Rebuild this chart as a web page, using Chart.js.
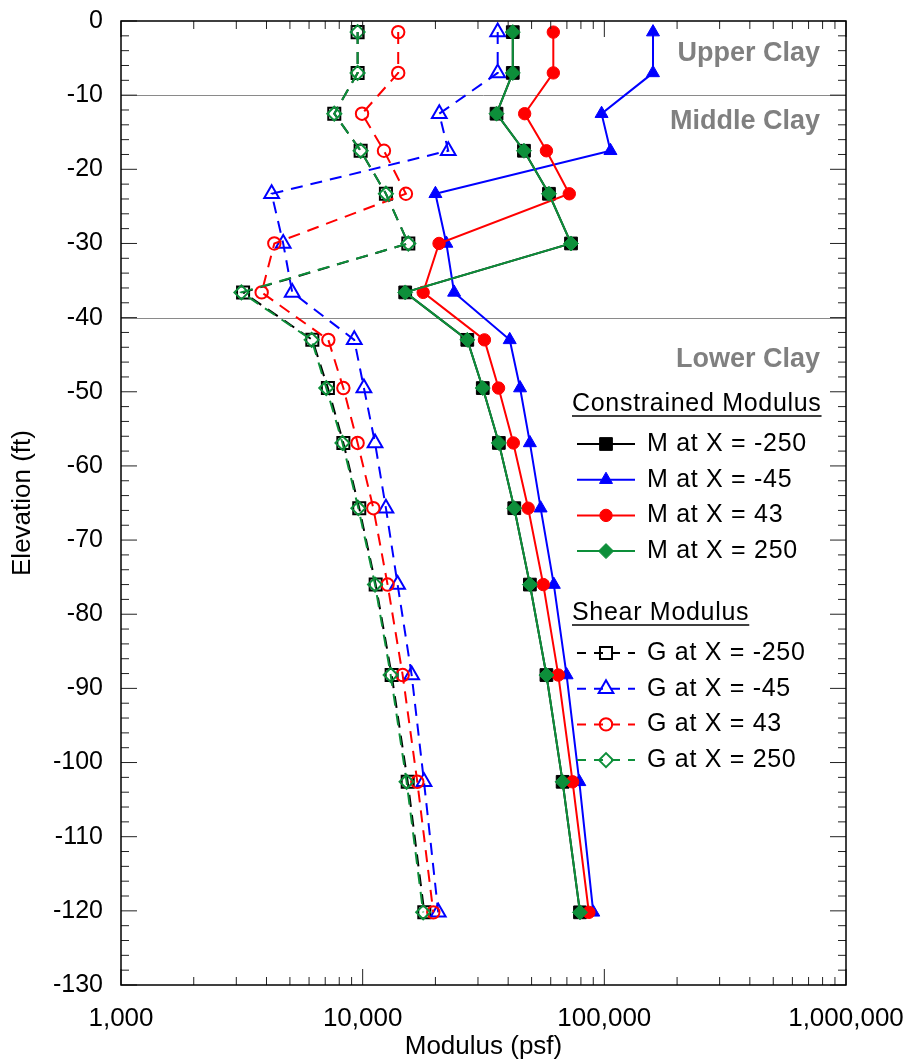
<!DOCTYPE html>
<html>
<head>
<meta charset="utf-8">
<script src="https://cdn.jsdelivr.net/npm/chart.js@4.4.1/dist/chart.umd.min.js"></script>
<style>
    html, body { margin: 0; padding: 0; background: #fff; }
    #wrap { width: 909px; height: 1061px; }
</style>
</head>
<body>
<div id="wrap"><canvas id="modulusChart" width="909" height="1061"></canvas></div>
<script>
// elevation of each reading (ft)
const elevations = [-1.5, -7, -12.5, -17.5, -23.3, -30, -36.6, -43, -49.5, -56.9, -65.7, -76, -88.2, -102.6, -120.2];

// constrained modulus M (psf)
const mAtMinus250 = [41800, 41800, 35800, 46500, 59000, 72800, 15000, 27100, 31400, 36600, 42400, 49200, 57600, 67200, 79300];
const mAtMinus45  = [159000, 159000, 97400, 106000, 20000, 22200, 23900, 40600, 44800, 49200, 54500, 61800, 69800, 78800, 90000];
const mAt43       = [61500, 61500, 46800, 57600, 71600, 20700, 17800, 31900, 36500, 42000, 48400, 55900, 64500, 73900, 86300];
const mAt250      = [41800, 41800, 35800, 46500, 59000, 72800, 15000, 27100, 31400, 36600, 42400, 49200, 57600, 67200, 79300];

// shear modulus G (psf)
const gAtMinus250 = [9530, 9530, 7630, 9810, 12480, 15450, 3200, 6190, 7180, 8320, 9680, 11320, 13180, 15360, 17990];
const gAtMinus45  = [36200, 36200, 20750, 22600, 4200, 4690, 5110, 9230, 10120, 11250, 12480, 13950, 15950, 17940, 20550];
const gAt43       = [14030, 14030, 9940, 12250, 15100, 4310, 3820, 7210, 8320, 9530, 11070, 12680, 14640, 16830, 19600];
const gAt250      = [9530, 9530, 7630, 9810, 12480, 15450, 3150, 6150, 7070, 8250, 9600, 11250, 13060, 15200, 17800];

const seriesNames = ['X = -250', 'X = -45', 'X = 43', 'X = 250'];
const xTickValues = [1000, 10000, 100000, 1000000];
const yTickValues = [0, -10, -20, -30, -40, -50, -60, -70, -80, -90, -100, -110, -120, -130];

// soil layers
const layerBounds = [-10, -40];
const layerNames = ['Upper Clay', 'Middle Clay', 'Lower Clay'];
const layerLabelElev = [-4.4, -13.6, -45.6];

const colors = ['#000000', '#0000ff', '#ff0000', '#0d8f3a'];
const markerStyles = ['rect', 'triangle', 'circle', 'rectRot'];
const filledRadius = [9, 7.5, 6.2, 7.5];
const openRadius = [8.5, 8.5, 6.2, 7];
const drawOrder = [3, 2, 1, 0];   // green on top, like excel
const dashPattern = [12, 8];
const FONT = '"Liberation Sans", Arial, sans-serif';

const datasets = [];
[mAtMinus250, mAtMinus45, mAt43, mAt250].forEach((vals, i) => {
    datasets.push({
        label: 'M at ' + seriesNames[i],
        group: 'M',
        data: vals.map((v, k) => ({ x: v, y: elevations[k] })),
        showLine: true,
        borderColor: colors[i],
        backgroundColor: colors[i],
        borderWidth: 2,
        pointStyle: markerStyles[i],
        pointRadius: filledRadius[i],
        pointHoverRadius: filledRadius[i],
        pointBorderWidth: 1,
        pointBackgroundColor: colors[i],
        pointBorderColor: colors[i],
        order: drawOrder[i]
    });
});
[gAtMinus250, gAtMinus45, gAt43, gAt250].forEach((vals, i) => {
    datasets.push({
        label: 'G at ' + seriesNames[i],
        group: 'G',
        data: vals.map((v, k) => ({ x: v, y: elevations[k] })),
        showLine: true,
        borderColor: colors[i],
        backgroundColor: 'rgba(0,0,0,0)',
        borderWidth: 2,
        borderDash: dashPattern,
        pointStyle: markerStyles[i],
        pointRadius: openRadius[i],
        pointHoverRadius: openRadius[i],
        pointBorderWidth: 2,
        pointBackgroundColor: 'rgba(0,0,0,0)',
        pointBorderColor: colors[i],
        order: drawOrder[i] + 4
    });
});

// layer lines under the data, frame + inward ticks over it
const frameTicks = {
    id: 'frameTicks',
    beforeDatasetsDraw(chart) {
        const { ctx, chartArea: a, scales: { y } } = chart;
        ctx.save();
        ctx.strokeStyle = '#8a8a8a';
        ctx.lineWidth = 1;
        layerBounds.forEach(v => {
            const py = Math.round(y.getPixelForValue(v)) + 0.5;
            ctx.beginPath();
            ctx.moveTo(a.left, py);
            ctx.lineTo(a.right, py);
            ctx.stroke();
        });
        ctx.restore();
    },
    afterDatasetsDraw(chart) {
        const { ctx, chartArea: a, scales: { x, y } } = chart;
        ctx.save();
        ctx.strokeStyle = '#222';
        ctx.lineWidth = 1;
        ctx.beginPath();
        // y: major every tick, minor every 2 ft
        for (let i = 0; i < yTickValues.length; i++) {
            const v = yTickValues[i];
            const py = y.getPixelForValue(v);
            ctx.moveTo(a.left, py); ctx.lineTo(a.left + 16, py);
            ctx.moveTo(a.right, py); ctx.lineTo(a.right - 16, py);
            if (i < yTickValues.length - 1) {
                const step = (yTickValues[i + 1] - v) / 5;
                for (let m = 1; m < 5; m++) {
                    const pm = y.getPixelForValue(v + step * m);
                    ctx.moveTo(a.left, pm); ctx.lineTo(a.left + 8, pm);
                    ctx.moveTo(a.right, pm); ctx.lineTo(a.right - 8, pm);
                }
            }
        }
        // x: decades major, 2..9 minor
        for (let i = 0; i < xTickValues.length; i++) {
            const v = xTickValues[i];
            const px = x.getPixelForValue(v);
            ctx.moveTo(px, a.bottom); ctx.lineTo(px, a.bottom - 16);
            ctx.moveTo(px, a.top); ctx.lineTo(px, a.top + 16);
            if (i < xTickValues.length - 1) {
                for (let m = 2; m < 10; m++) {
                    const pm = x.getPixelForValue(v * m);
                    ctx.moveTo(pm, a.bottom); ctx.lineTo(pm, a.bottom - 8);
                    ctx.moveTo(pm, a.top); ctx.lineTo(pm, a.top + 8);
                }
            }
        }
        ctx.stroke();
        ctx.strokeStyle = '#000';
        ctx.lineWidth = 1.5;
        ctx.strokeRect(a.left, a.top, a.right - a.left, a.bottom - a.top);

        // layer names
        ctx.fillStyle = '#808080';
        ctx.font = 'bold 27px ' + FONT;
        ctx.textAlign = 'right';
        ctx.textBaseline = 'middle';
        layerNames.forEach((name, i) => {
            ctx.fillText(name, a.right - 26, y.getPixelForValue(layerLabelElev[i]));
        });
        ctx.restore();
    }
};

// excel style legend with two headed groups
const sideLegend = {
    id: 'sideLegend',
    afterDraw(chart) {
        const ctx = chart.ctx;
        const groups = [
            { title: 'Constrained Modulus', key: 'M', top: 404 },
            { title: 'Shear Modulus', key: 'G', top: 613 }
        ];
        const left = 572, lineL = 577, lineR = 635, markX = 606, textX = 647, rowGap = 35.7;
        ctx.save();
        ctx.font = '25px ' + FONT;
        if ('letterSpacing' in ctx) ctx.letterSpacing = '0.7px';
        ctx.textBaseline = 'middle';
        ctx.textAlign = 'left';
        groups.forEach(g => {
            ctx.fillStyle = '#000';
            ctx.fillText(g.title, left, g.top);
            const w = ctx.measureText(g.title).width;
            ctx.strokeStyle = '#000';
            ctx.lineWidth = 1.5;
            ctx.setLineDash([]);
            ctx.beginPath();
            ctx.moveTo(left, g.top + 12);
            ctx.lineTo(left + w, g.top + 12);
            ctx.stroke();

            let row = 0;
            chart.data.datasets.forEach(ds => {
                if (ds.group !== g.key) return;
                const cy = g.top + 40 + row * rowGap;
                row++;
                ctx.strokeStyle = ds.borderColor;
                ctx.lineWidth = 2;
                ctx.setLineDash(ds.borderDash ? [9, 8] : []);
                ctx.beginPath();
                ctx.moveTo(lineL, cy);
                ctx.lineTo(lineR, cy);
                ctx.stroke();
                ctx.setLineDash([]);
                ctx.fillStyle = ds.pointBackgroundColor;
                ctx.strokeStyle = ds.pointBorderColor;
                ctx.lineWidth = ds.pointBorderWidth;
                if (Chart.helpers && Chart.helpers.drawPoint) {
                    Chart.helpers.drawPoint(ctx, {
                        pointStyle: ds.pointStyle, rotation: 0,
                        radius: ds.pointRadius, borderWidth: ds.pointBorderWidth
                    }, markX, cy);
                }
                ctx.fillStyle = '#000';
                ctx.fillText(ds.label, textX, cy);
            });
        });
        ctx.restore();
    }
};

new Chart(document.getElementById('modulusChart'), {
    type: 'scatter',
    data: { datasets: datasets },
    options: {
        responsive: false,
        animation: false,
        layout: { padding: { top: 21, right: 63, left: 0, bottom: 0 } },
        plugins: { legend: { display: false }, tooltip: { enabled: false } },
        scales: {
            x: {
                type: 'logarithmic',
                min: 1000,
                max: 1000000,
                grid: { display: false, drawTicks: false },
                border: { display: false },
                afterBuildTicks: s => { s.ticks = xTickValues.map(v => ({ value: v })); },
                afterFit: s => {
                    s.height = 76;
                    s.paddingLeft = 0;
                    s.paddingRight = 0;
                },
                ticks: {
                    autoSkip: false,
                    maxRotation: 0,
                    padding: 18,
                    color: '#000',
                    font: { family: FONT, size: 26 },
                    callback: v => Number(v).toLocaleString('en-US')
                },
                title: {
                    display: true,
                    text: 'Modulus (psf)',
                    color: '#000',
                    font: { family: FONT, size: 26 },
                    padding: { top: 0, bottom: -1 }
                }
            },
            y: {
                min: -130,
                max: 0,
                grid: { display: false, drawTicks: false },
                border: { display: false },
                afterBuildTicks: s => { s.ticks = yTickValues.map(v => ({ value: v })); },
                afterFit: s => {
                    s.width = 121;
                    s.paddingTop = 0;
                    s.paddingBottom = 0;
                },
                ticks: {
                    autoSkip: false,
                    padding: 18,
                    color: '#000',
                    font: { family: FONT, size: 25 }
                },
                title: {
                    display: true,
                    text: 'Elevation (ft)',
                    color: '#000',
                    font: { family: FONT, size: 26 },
                    padding: { top: 7, bottom: 0 }
                }
            }
        }
    },
    plugins: [frameTicks, sideLegend]
});
</script>
</body>
</html>
